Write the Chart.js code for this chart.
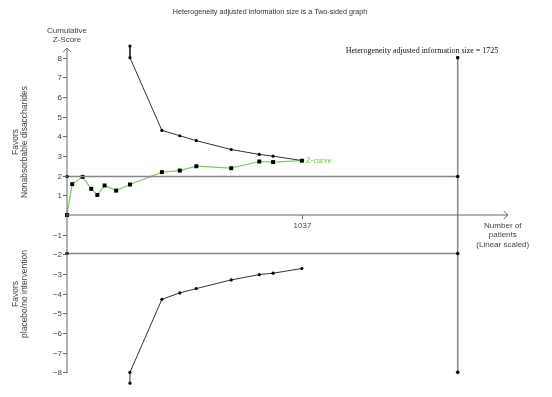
<!DOCTYPE html>
<html>
<head>
<meta charset="utf-8">
<script src="https://cdn.jsdelivr.net/npm/chart.js@4.4.1/dist/chart.umd.min.js"></script>
<style>
  html, body { margin: 0; padding: 0; background: #fff; }
  canvas { display: block; }
</style>
</head>
<body>
<canvas id="tsaChart" width="552" height="397"></canvas>
<script>
// Cumulative Z-curve (patients vs z)
const patients = [0, 23, 69, 107, 134, 166, 217, 278, 419, 498, 571, 725, 849, 910, 1037];
const zCurve = [0, 1.57, 1.94, 1.33, 1.02, 1.50, 1.24, 1.55, 2.18, 2.26, 2.48, 2.38, 2.72, 2.69, 2.76];

// Monitoring boundaries
const boundaryPatients = [278, 278, 419, 498, 571, 725, 849, 910, 1037];
const upperBoundary = [8.59, 8, 4.30, 4.03, 3.78, 3.33, 3.08, 2.99, 2.77];
const lowerBoundary = [-8.55, -8, -4.29, -3.96, -3.74, -3.30, -3.03, -2.96, -2.72];

// Conventional limits and information size
const zLimit = 1.96;
const requiredSize = 1725;
const zCap = 8;

// Axis labels
const yTicks = [8, 7, 6, 5, 4, 3, 2, 1, -1, -2, -3, -4, -5, -6, -7, -8];
const xTicks = [1037];

const toPoints = (xs, ys) => xs.map((x, i) => ({ x: x, y: ys[i] }));

const SANS = '"Liberation Sans", Arial, sans-serif';
const SERIF = '"Liberation Serif", "Times New Roman", serif';

// Axes, arrows and all the text
const decorPlugin = {
    id: 'decor',
    afterDatasetsDraw(chart) {
        const ctx = chart.ctx;
        const xs = chart.scales.x;
        const ys = chart.scales.y;
        const x0 = xs.getPixelForValue(0);
        const y0 = ys.getPixelForValue(0);

        ctx.save();
        ctx.strokeStyle = '#666';
        ctx.lineWidth = 1;

        // y axis with arrow
        const yTop = ys.getPixelForValue(8.48);
        const yBot = ys.getPixelForValue(-8.05);
        ctx.beginPath();
        ctx.moveTo(x0, yBot);
        ctx.lineTo(x0, yTop);
        ctx.moveTo(x0 - 4, yTop + 4);
        ctx.lineTo(x0, yTop);
        ctx.lineTo(x0 + 4, yTop + 4);
        ctx.stroke();

        // x axis with arrow
        const xEnd = xs.getPixelForValue(1946);
        ctx.beginPath();
        ctx.moveTo(x0, y0);
        ctx.lineTo(xEnd, y0);
        ctx.moveTo(xEnd - 4, y0 - 4);
        ctx.lineTo(xEnd, y0);
        ctx.lineTo(xEnd - 4, y0 + 4);
        ctx.stroke();

        // y ticks
        ctx.fillStyle = '#444';
        ctx.font = '8px ' + SANS;
        ctx.textAlign = 'right';
        ctx.textBaseline = 'middle';
        yTicks.forEach(v => {
            const py = Math.round(ys.getPixelForValue(v)) + 0.5;
            ctx.beginPath();
            ctx.moveTo(x0 - 4, py);
            ctx.lineTo(x0, py);
            ctx.stroke();
            ctx.fillText(v < 0 ? '\u2212' + Math.abs(v) : String(v), x0 - 5, py);
        });

        // x ticks
        ctx.textAlign = 'center';
        xTicks.forEach(v => {
            const px = Math.round(xs.getPixelForValue(v)) + 0.5;
            ctx.beginPath();
            ctx.moveTo(px, y0);
            ctx.lineTo(px, y0 + 4);
            ctx.stroke();
            ctx.fillText(String(v), px, y0 + 11);
        });

        // axis titles
        ctx.fillText('Cumulative', x0, 31);
        ctx.fillText('Z-Score', x0, 40);
        ctx.fillText('Number of', xEnd - 5, 226);
        ctx.fillText('patients', xEnd - 5, 235);
        ctx.fillText('(Linear scaled)', xEnd - 5, 245);

        // main title
        ctx.fillStyle = '#333';
        ctx.font = '7.2px ' + SANS;
        ctx.fillText('Heterogeneity adjusted information size is a Two-sided graph', 270, 12);

        // information size label
        ctx.fillStyle = '#111';
        ctx.font = '8px ' + SERIF;
        ctx.fillText('Heterogeneity adjusted information size = ' + requiredSize, 422, 51);

        // z-curve label
        const last = patients.length - 1;
        ctx.fillStyle = '#5fbf3f';
        ctx.textAlign = 'left';
        ctx.fillText('Z-curve', xs.getPixelForValue(patients[last]) + 4, ys.getPixelForValue(zCurve[last]));

        // rotated side labels
        ctx.fillStyle = '#444';
        ctx.font = '8.5px ' + SANS;
        ctx.textAlign = 'center';
        const side = (lines, cy) => {
            ctx.save();
            ctx.translate(0, cy);
            ctx.rotate(-Math.PI / 2);
            ctx.fillText(lines[0], 0, 16);
            ctx.fillText(lines[1], 0, 25);
            ctx.restore();
        };
        side(['Favors', 'Nonabsorbable disaccharides'], 142);
        side(['Favors', 'placebo/no intervention'], 294);

        ctx.restore();
    }
};

function initChart() {
    const ctx = document.getElementById('tsaChart').getContext('2d');

    const limitStyle = {
        showLine: true,
        borderColor: '#888',
        borderWidth: 1.5,
        pointRadius: 1.8,
        pointBackgroundColor: '#000',
        pointBorderWidth: 0,
        clip: false
    };

    const boundaryStyle = {
        showLine: true,
        borderColor: '#333',
        borderWidth: 1,
        pointRadius: 1.6,
        pointBackgroundColor: '#000',
        pointBorderWidth: 0,
        clip: false
    };

    const data = {
        datasets: [
            Object.assign({ data: [{ x: 0, y: zLimit }, { x: requiredSize, y: zLimit }] }, limitStyle),
            Object.assign({ data: [{ x: 0, y: -zLimit }, { x: requiredSize, y: -zLimit }] }, limitStyle),
            Object.assign({ data: [{ x: requiredSize, y: zCap }, { x: requiredSize, y: -zCap }] }, limitStyle),
            Object.assign({ data: toPoints(boundaryPatients, upperBoundary) }, boundaryStyle),
            Object.assign({ data: toPoints(boundaryPatients, lowerBoundary) }, boundaryStyle),
            {
                data: toPoints(patients, zCurve),
                showLine: true,
                borderColor: '#80cc66',
                borderWidth: 1.2,
                pointStyle: 'rect',
                pointRadius: 2.8,
                pointBackgroundColor: '#000',
                pointBorderColor: '#000',
                pointBorderWidth: 0,
                clip: false
            }
        ]
    };

    new Chart(ctx, {
        type: 'scatter',
        data: data,
        options: {
            responsive: false,
            animation: false,
            events: [],
            layout: { padding: { left: 67, right: 32, top: 38, bottom: 5 } },
            scales: {
                x: { type: 'linear', min: 0, max: 2000, display: false },
                y: { type: 'linear', min: -9, max: 9, display: false }
            },
            plugins: {
                legend: { display: false },
                tooltip: { enabled: false }
            }
        },
        plugins: [decorPlugin]
    });
}

document.addEventListener('DOMContentLoaded', initChart);
</script>
</body>
</html>
